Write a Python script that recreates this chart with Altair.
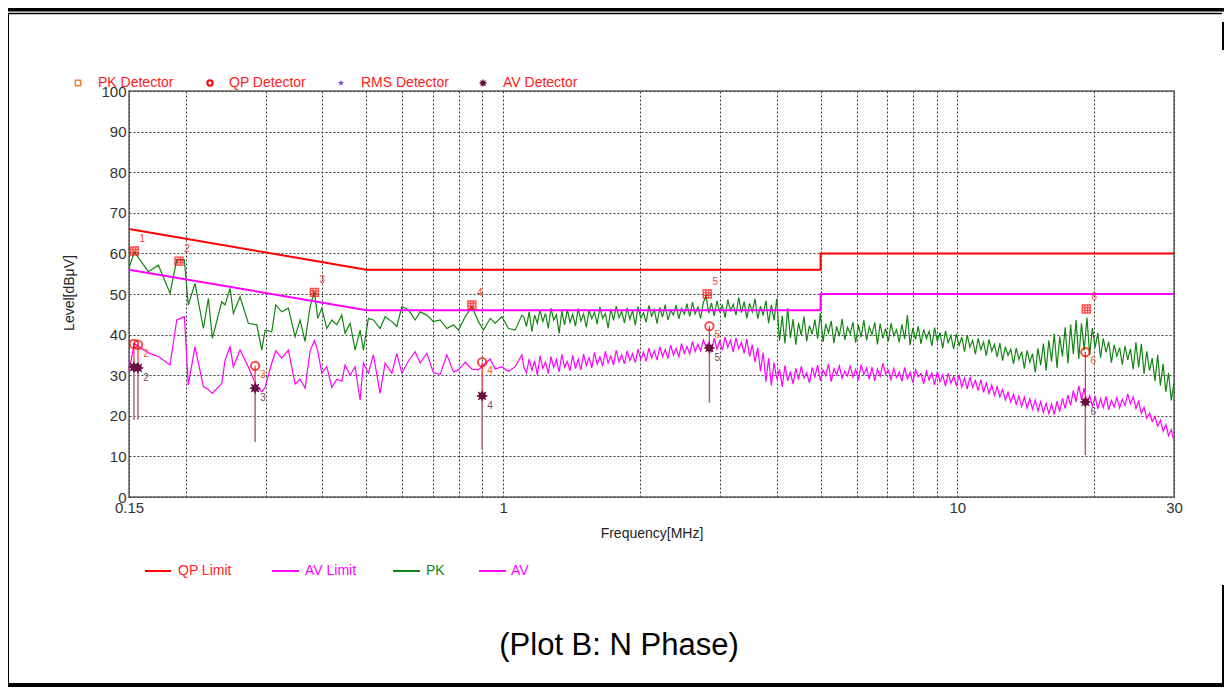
import altair as alt
import numpy as np
import pandas as pd

FONT = "Liberation Sans"

# ---------------- data ----------------
# coarse part of the sweep (MHz)
freq_a = [0.150, 0.1541, 0.1654, 0.1741, 0.1847, 0.1911, 0.1986, 0.2026, 0.2096, 0.2187,
          0.2243, 0.2289, 0.2401, 0.2441, 0.2504, 0.2546, 0.2634, 0.2747, 0.2867, 0.2941,
          0.2990, 0.3094, 0.3157, 0.3255, 0.3366, 0.3482, 0.3571, 0.3663, 0.3757, 0.3840,
          0.3906, 0.3986, 0.4089, 0.4194, 0.4301, 0.4412, 0.4486, 0.4602, 0.4720, 0.4841,
          0.4923, 0.5049, 0.5179, 0.5358, 0.5496, 0.5686, 0.5832, 0.5982, 0.6186, 0.6399,
          0.6564, 0.6791, 0.7022, 0.7265, 0.7516, 0.7772, 0.7972, 0.8247, 0.8532, 0.8823,
          0.9049, 0.9362, 0.9602, 0.9934, 1.0272, 1.0627, 1.0994]
pk_a = [56.3, 60.4, 55.5, 57.1, 50.2, 58.4, 58.4, 47.3, 52.6, 41.5,
        48.9, 39.1, 48.1, 47.3, 51.4, 45.2, 49.3, 42.8, 42.4, 36.2,
        41.1, 40.7, 47.3, 45.6, 46.5, 39.5, 43.6, 38.3, 46.9, 50.6,
        44.0, 46.5, 41.5, 43.6, 42.4, 44.8, 40.3, 42.8, 36.2, 41.1,
        36.2, 44.0, 43.6, 41.5, 44.4, 43.2, 42.0, 46.9, 46.1, 43.6,
        45.6, 44.8, 43.2, 43.6, 41.5, 42.4, 41.1, 44.4, 46.9, 43.2,
        41.1, 44.0, 42.8, 44.4, 41.5, 41.1, 44.8]
av_a = [31.0, 37.8, 35.5, 34.6, 32.5, 43.6, 44.4, 27.6, 37.0, 27.2,
        26.5, 25.5, 28.0, 33.7, 37.0, 32.1, 36.2, 32.0, 27.2, 25.9,
        27.0, 33.0, 36.0, 34.2, 36.2, 27.8, 29.0, 26.8, 36.0, 38.5,
        36.0, 30.5, 32.1, 27.0, 29.0, 28.5, 32.5, 30.0, 32.1, 23.9,
        33.0, 30.5, 35.0, 25.5, 33.0, 30.5, 35.4, 30.5, 33.5, 35.8,
        33.0, 35.4, 30.6, 30.2, 35.0, 30.8, 31.3, 33.2, 31.5, 31.3,
        32.5, 34.0, 31.5, 32.1, 30.9, 32.1, 35.0]

# fine part of the sweep: log-spaced sweep points 1.11 ... 30 MHz
fine_start, fine_stop = 1.11, 30.0
pk_b = [44.4, 42.0, 45.6, 40.7, 44.8, 42.8, 46.1, 43.2, 45.2, 41.5, 46.5, 43.6, 44.9, 40.3, 45.8, 42.4, 46.2, 43.0, 45.0, 42.1,
        46.4, 43.3, 45.1, 41.8, 46.0, 43.9, 45.5, 42.6, 46.8, 44.0, 45.2, 41.6, 46.3, 43.5, 47.0, 44.2, 45.7, 42.9, 46.6, 43.8,
        45.9, 42.3, 46.9, 44.1, 45.4, 43.0, 47.2, 44.5, 46.1, 42.7, 46.7, 44.3, 47.4, 43.6, 46.0, 44.8, 47.3, 43.9, 46.5, 45.0,
        47.6, 44.4, 48.0, 45.1, 46.8, 44.0, 47.9, 49.5, 45.3, 47.8, 44.6, 48.3, 45.7, 47.2, 44.2, 48.6, 45.9, 47.5, 44.8, 49.2,
        45.4, 48.1, 44.0, 47.7, 45.6, 48.8, 43.9, 47.0, 44.7, 48.4, 42.8, 47.3, 43.5, 48.9, 38.5, 44.6, 37.8, 46.5, 39.2, 43.8,
        37.5, 42.9, 39.8, 44.5, 38.4, 42.2, 40.1, 43.7, 39.0, 45.3, 38.2, 42.6, 40.4, 43.4, 37.9, 42.0, 39.6, 43.9, 38.7, 41.8,
        40.2, 43.1, 38.0, 42.4, 39.4, 43.6, 38.6, 41.9, 40.0, 43.0, 37.6, 42.7, 39.1, 41.5, 38.3, 42.8, 39.7, 41.2, 38.1, 42.5,
        38.9, 44.8, 37.4, 41.6, 38.8, 42.1, 37.7, 41.3, 39.0, 40.8, 37.2, 41.7, 38.4, 40.5, 36.6, 40.9, 38.0, 39.8, 36.4, 40.2,
        37.3, 39.4, 35.8, 39.9, 36.9, 38.6, 35.2, 39.1, 36.3, 38.2, 34.8, 38.8, 35.9, 37.6, 34.5, 37.9, 33.6, 37.0, 34.9, 36.4,
        32.8, 36.7, 33.9, 35.8, 31.6, 36.1, 33.2, 35.3, 30.7, 36.6, 32.5, 37.8, 31.2, 38.6, 33.4, 40.2, 31.8, 39.5, 34.6, 41.8,
        32.9, 42.5, 35.2, 43.6, 34.0, 42.8, 36.1, 44.2, 35.0, 41.6, 36.8, 40.4, 34.3, 39.1, 35.6, 38.2, 33.1, 37.5, 34.7, 36.8,
        32.6, 37.2, 33.8, 36.5, 31.4, 38.1, 32.0, 37.7, 30.3, 35.9, 31.1, 34.2, 28.6, 35.0, 27.4, 32.8, 25.9, 30.6, 23.8, 28.2]
av_b = [32.1, 30.6, 34.0, 31.2, 33.5, 30.1, 34.8, 31.7, 33.2, 30.4, 34.6, 31.9, 33.8, 30.8, 35.1, 32.0, 33.4, 31.1, 34.9, 31.6,
        33.9, 31.3, 35.2, 32.4, 34.3, 31.8, 35.6, 32.7, 34.5, 32.2, 35.9, 33.0, 34.7, 32.5, 36.2, 33.3, 35.0, 32.8, 36.0, 33.6,
        35.3, 33.1, 36.4, 33.9, 35.7, 33.4, 36.7, 34.2, 36.0, 33.7, 37.0, 34.6, 36.3, 34.1, 37.4, 35.0, 36.6, 34.5, 37.8, 35.4,
        37.1, 35.2, 38.3, 35.8, 37.6, 36.0, 38.7, 36.9, 38.0, 35.9, 39.1, 36.4, 38.4, 36.1, 39.4, 36.8, 38.6, 35.7, 39.2, 36.5,
        38.1, 35.4, 38.9, 34.6, 37.5, 33.2, 36.8, 31.0, 35.6, 28.4, 34.2, 27.5, 33.1, 29.0, 31.5, 27.2, 32.4, 28.6, 30.9, 27.8,
        31.7, 28.9, 32.2, 29.3, 30.6, 28.1, 31.9, 29.6, 32.5, 28.7, 31.3, 29.9, 32.8, 28.4, 31.6, 30.1, 32.3, 29.2, 31.0, 29.8,
        32.4, 29.5, 31.4, 28.8, 32.6, 30.2, 31.8, 29.0, 32.0, 28.6, 31.5, 29.7, 32.9, 30.3, 31.2, 28.9, 31.7, 29.4, 30.8, 28.5,
        31.9, 29.1, 30.7, 28.2, 31.3, 29.6, 30.4, 27.9, 31.0, 28.8, 30.6, 27.6, 30.9, 28.4, 30.1, 27.3, 30.5, 28.0, 29.7, 27.5,
        29.9, 27.1, 29.3, 26.6, 29.6, 27.0, 28.7, 26.2, 28.9, 25.8, 28.1, 25.5, 27.6, 25.0, 27.2, 24.7, 26.5, 23.9, 25.8, 23.4,
        25.3, 22.8, 24.9, 22.3, 24.6, 21.9, 24.2, 21.6, 23.9, 21.2, 23.5, 20.8, 23.1, 20.5, 22.9, 20.3, 23.6, 21.0, 24.3, 21.8,
        25.1, 22.6, 26.2, 23.4, 27.4, 24.0, 26.8, 23.1, 25.0, 22.4, 24.6, 21.7, 24.2, 22.0, 24.8, 21.5, 23.8, 22.2, 24.5, 21.9,
        24.1, 22.5, 25.4, 23.0, 24.7, 21.8, 23.6, 20.6, 22.1, 19.4, 20.7, 18.6, 19.8, 17.4, 18.9, 16.2, 17.8, 15.1, 16.6, 13.8]

# limits
lim_f = [0.15, 0.5, 5, 5, 30]
qp_lim = [66, 56, 56, 60, 60]
av_lim = [56, 46, 46, 50, 50]

# detector markers
pk_mk_f = [0.1541, 0.1933, 0.3840, 0.8532, 2.814, 19.23]
pk_mk_v = [60.6, 58.1, 50.4, 47.3, 50.0, 46.3]
pk_mk_lbl = ["1", "2", "3", "4", "5", "6"]
det_f = [0.1538, 0.1570, 0.2843, 0.8988, 2.845, 19.14]
qp_v = [37.7, 37.5, 32.3, 33.2, 42.1, 35.7]
av_v = [32.0, 31.8, 26.8, 24.9, 36.7, 23.4]
stem_low = [19.0, 19.0, 13.5, 11.6, 23.2, 10.3]
det_lbl = ["", "2", "3", "4", "5", "6"]

grid_x = [0.15, 0.2, 0.3, 0.4, 0.5, 0.6, 0.7, 0.8, 0.9, 1, 2, 3, 4, 5, 6, 7, 8, 9, 10, 20, 30]
grid_y = list(range(0, 101, 10))

# ---------------- tables ----------------
def trace(fa, va, vb):
    fb = list(np.geomspace(fine_start, fine_stop, len(vb)))
    f = list(fa[:len(va)]) + fb
    v = list(va[:len(fa)]) + list(vb)
    return pd.DataFrame({"f": f, "v": v, "i": range(len(f))})

pk_df = trace(freq_a, pk_a, pk_b)
av_df = trace(freq_a, av_a, av_b)
qpl_df = pd.DataFrame({"f": lim_f, "v": qp_lim, "i": range(len(lim_f))})
avl_df = pd.DataFrame({"f": lim_f, "v": av_lim, "i": range(len(lim_f))})
pkm_df = pd.DataFrame({"f": pk_mk_f, "v": pk_mk_v, "lbl": pk_mk_lbl})
det_df = pd.DataFrame({"f": det_f, "qp": qp_v, "av": av_v, "low": stem_low, "lbl": det_lbl})

# ---------------- scales / axes ----------------
XS = alt.Scale(type="log", domain=[0.15, 30], nice=False, zero=False)
YS = alt.Scale(domain=[0, 100], nice=False, zero=False)
XA = alt.Axis(values=grid_x, grid=True, gridDash=[2, 2], gridColor="#3c3c3c", gridWidth=1,
              ticks=False, domain=False, title=None, labelFont=FONT, labelFontSize=15,
              labelColor="#333333", labelPadding=3, labelOverlap=False, labelFlush=False,
              labelBound=False, orient="bottom",
              labelExpr="datum.value == 0.15 ? '0.15' : datum.value == 1 ? '1' : datum.value == 10 ? '10' : datum.value == 30 ? '30' : ''")
YA = alt.Axis(values=grid_y, grid=True, gridDash=[2, 2], gridColor="#3c3c3c", gridWidth=1,
              ticks=False, domain=False, title=None, labelFont=FONT, labelFontSize=15,
              labelColor="#333333", labelPadding=3, labelOverlap=False, labelFlush=False,
              labelBound=False, orient="left")

def X():
    return alt.X("f:Q", scale=XS, axis=XA)

def Y(field):
    return alt.Y(f"{field}:Q", scale=YS, axis=YA)

PK_COL = "#138513"
AV_COL = "#ff00ff"
RED = "#ff0000"

layers = []
layers.append(alt.Chart(av_df).mark_line(color=AV_COL, strokeWidth=1.2).encode(x=X(), y=Y("v"), order="i:Q"))
layers.append(alt.Chart(pk_df).mark_line(color=PK_COL, strokeWidth=1.2).encode(x=X(), y=Y("v"), order="i:Q"))
layers.append(alt.Chart(qpl_df).mark_line(color=RED, strokeWidth=2).encode(x=X(), y=Y("v"), order="i:Q"))
layers.append(alt.Chart(avl_df).mark_line(color=AV_COL, strokeWidth=2).encode(x=X(), y=Y("v"), order="i:Q"))

# stems
layers.append(alt.Chart(det_df).mark_rule(color="#a8687c", strokeWidth=1.5).encode(x=X(), y=Y("av"), y2="low:Q"))
layers.append(alt.Chart(det_df).mark_rule(color="#f03030", strokeWidth=1.2).encode(x=X(), y=Y("qp"), y2="av:Q"))

HASH = "M-1,-1L1,-1L1,1L-1,1Z M-0.35,-1L-0.35,1 M0.35,-1L0.35,1 M-1,-0.35L1,-0.35 M-1,0.35L1,0.35"
STAR8 = ("M1,0L0.508,0.21L0.707,0.707L0.21,0.508L0,1L-0.21,0.508L-0.707,0.707L-0.508,0.21"
         "L-1,0L-0.508,-0.21L-0.707,-0.707L-0.21,-0.508L0,-1L0.21,-0.508L0.707,-0.707L0.508,-0.21Z")
STAR5 = ("M0,-1L0.235,-0.324L0.951,-0.309L0.38,0.124L0.588,0.809L0,0.4L-0.588,0.809"
         "L-0.38,0.124L-0.951,-0.309L-0.235,-0.324Z")
AV_MK = "#6a1040"

layers.append(alt.Chart(pkm_df).mark_point(shape=HASH, size=64, filled=False, color=RED, strokeWidth=1.4)
              .encode(x=X(), y=Y("v")))
layers.append(alt.Chart(det_df).mark_point(shape="circle", size=70, filled=False, color=RED, strokeWidth=2)
              .encode(x=X(), y=Y("qp")))
layers.append(alt.Chart(det_df).mark_point(shape=STAR8, size=150, filled=True, color=AV_MK, opacity=1)
              .encode(x=X(), y=Y("av")))

# marker numbers
layers.append(alt.Chart(pkm_df).mark_text(font=FONT, fontSize=10, color="#ff4040", dx=8, dy=-12)
              .encode(x=X(), y=Y("v"), text="lbl:N"))
layers.append(alt.Chart(det_df).mark_text(font=FONT, fontSize=10, color="#ff5a2a", dx=8, dy=9)
              .encode(x=X(), y=Y("qp"), text="lbl:N"))
layers.append(alt.Chart(det_df).mark_text(font=FONT, fontSize=10, color="#7a4a60", dx=8, dy=10)
              .encode(x=X(), y=Y("av"), text="lbl:N"))

# ---------------- decorations (pixel positions relative to plot area) ----------------
def one():
    return alt.Data(values=[{"k": 0}])

def txt(s, x, y, color, size=14, align="left", angle=0):
    kw = dict(text=s, font=FONT, fontSize=size, color=color, align=align, baseline="middle")
    if angle:
        kw["angle"] = angle
    return alt.Chart(one()).mark_text(**kw).encode(x=alt.value(x), y=alt.value(y))

def sym(shape, x, y, size, color, filled, sw=1.5):
    return alt.Chart(one()).mark_point(shape=shape, size=size, filled=filled, color=color,
                                       strokeWidth=sw, opacity=1).encode(x=alt.value(x), y=alt.value(y))

def hline(x1, x2, y, color, w):
    return alt.Chart(one()).mark_rule(color=color, strokeWidth=w).encode(
        x=alt.value(x1), x2=alt.value(x2), y=alt.value(y))

def rect(x1, x2, y1, y2, color="black"):
    return alt.Chart(one()).mark_rect(color=color).encode(
        x=alt.value(x1), x2=alt.value(x2), y=alt.value(y1), y2=alt.value(y2))

# top legend
layers += [
    sym("square", -51, -8, 28, "#f07840", False, 1.5),
    txt("PK Detector", -31, -8, "#ff2020"),
    sym("circle", 81, -8, 28, RED, False, 2),
    txt("QP Detector", 100, -8, "#ff2020"),
    sym(STAR5, 212, -8, 45, "#8040e0", True),
    txt("RMS Detector", 232, -8, "#ff2020"),
    sym(STAR8, 354, -8, 70, AV_MK, True),
    txt("AV Detector", 374, -8, "#ff2020"),
]
# bottom legend
layers += [
    hline(16, 42, 480, RED, 2), txt("QP Limit", 49, 480, "#ff2020"),
    hline(143, 170, 480, AV_COL, 2), txt("AV Limit", 176, 480, AV_COL),
    hline(264, 291, 480, PK_COL, 2), txt("PK", 297, 480, PK_COL),
    hline(350, 377, 480, AV_COL, 2), txt("AV", 382, 480, AV_COL),
]
# axis titles and caption
layers += [
    txt("Frequency[MHz]", 523, 443, "#222222", 14, "center"),
    txt("Level[dBμV]", -59, 202, "#222222", 14, "center", 270),
    txt("(Plot B: N Phase)", 490, 555, "#000000", 31, "center"),
]
# page frame
layers += [
    rect(-121, 1095, -83, -79.5),
    hline(-121, 1093, -77.5, "black", 1.5),
    alt.Chart(one()).mark_rule(color="black", strokeWidth=1).encode(
        x=alt.value(-120.5), y=alt.value(-77.5), y2=alt.value(592)),
    rect(1093, 1095, -69, -41),
    rect(1093, 1095, 494, 596),
    rect(-121, 1095, 592, 596),
]

chart = alt.layer(*layers).properties(
    width=1045, height=406,
    padding={"left": 121, "top": 83, "right": 50, "bottom": 190},
    autosize=alt.AutoSizeParams(type="none"),
    background="white",
).configure_view(stroke="#8a8a8a", strokeWidth=2)

chart.save("out.html", embed_options={"renderer": "svg", "actions": False})
